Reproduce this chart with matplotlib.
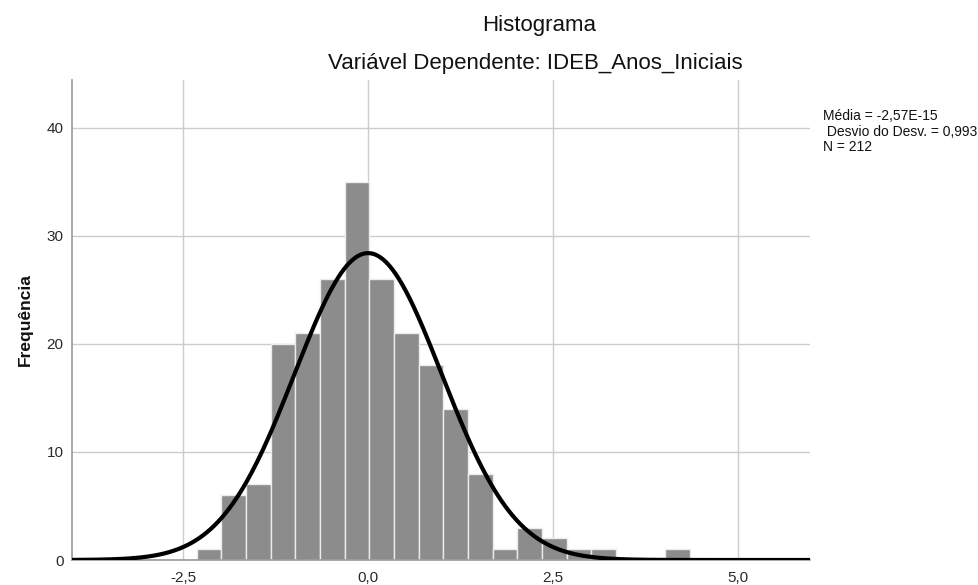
import numpy as np
import matplotlib
matplotlib.use("Agg")
import matplotlib.pyplot as plt

plt.rcParams['font.family'] = ['Liberation Sans', 'DejaVu Sans']

# Histogram data
bin_start = -2.315
bin_width = 0.3333
counts = [1, 6, 7, 20, 21, 26, 35, 26, 21, 18, 14, 8, 1, 3, 2, 1, 1, 0, 0, 1]

# Stats shown in legend
mean_val = -2.57e-15
sd_val = 0.993
n_val = 212

x_ticks = [-2.5, 0.0, 2.5, 5.0]
x_tick_labels = ["-2,5", "0,0", "2,5", "5,0"]
y_ticks = [0, 10, 20, 30, 40]

fig = plt.figure(figsize=(9.79, 5.85), dpi=100)
ax = fig.add_axes([72/979, 1-560/585, (810-72)/979, (560-80)/585])

edges = bin_start + bin_width*np.arange(len(counts)+1)
ax.bar(edges[:-1], counts, width=bin_width, align='edge', color='#8c8c8c',
       edgecolor='#ececec', linewidth=1.0, zorder=2)

xs = np.linspace(-4, 6, 600)
ys = n_val*bin_width/(sd_val*np.sqrt(2*np.pi))*np.exp(-0.5*((xs-mean_val)/sd_val)**2)
ax.plot(xs, ys, color='black', lw=3, zorder=3, solid_capstyle='butt')

ax.set_xlim(-4, 5.97)
ax.set_ylim(0, 44.4)
ax.set_xticks(x_ticks)
ax.set_xticklabels(x_tick_labels)
ax.set_yticks(y_ticks)
ax.grid(True, color='#cccccc', lw=1.0, zorder=0)
ax.set_axisbelow(True)
for s in ['top', 'right']:
    ax.spines[s].set_visible(False)
for s in ['left', 'bottom']:
    ax.spines[s].set_color('#999999')
    ax.spines[s].set_linewidth(1.2)
ax.tick_params(length=0, labelsize=11, colors='#2a2a2a', pad=6)
ax.tick_params(axis='x', pad=8)
ax.set_ylabel("Frequência", fontsize=12.5, fontweight='bold', color='#111111', labelpad=10)

fig.text(539/979, 1-25/585, "Histograma", ha='center', va='center', fontsize=16, color='#111111')
fig.text(535.5/979, 1-63/585, "Variável Dependente: IDEB_Anos_Iniciais", ha='center', va='center', fontsize=16, color='#111111')

fig.text(823/979, 1-116/585, "Média = -2,57E-15", ha='left', va='center', fontsize=10, color='#111111')
fig.text(823/979, 1-132/585, " Desvio do Desv. = 0,993", ha='left', va='center', fontsize=10, color='#111111')
fig.text(823/979, 1-147/585, "N = 212", ha='left', va='center', fontsize=10, color='#111111')

fig.savefig("out.png", dpi=100)
